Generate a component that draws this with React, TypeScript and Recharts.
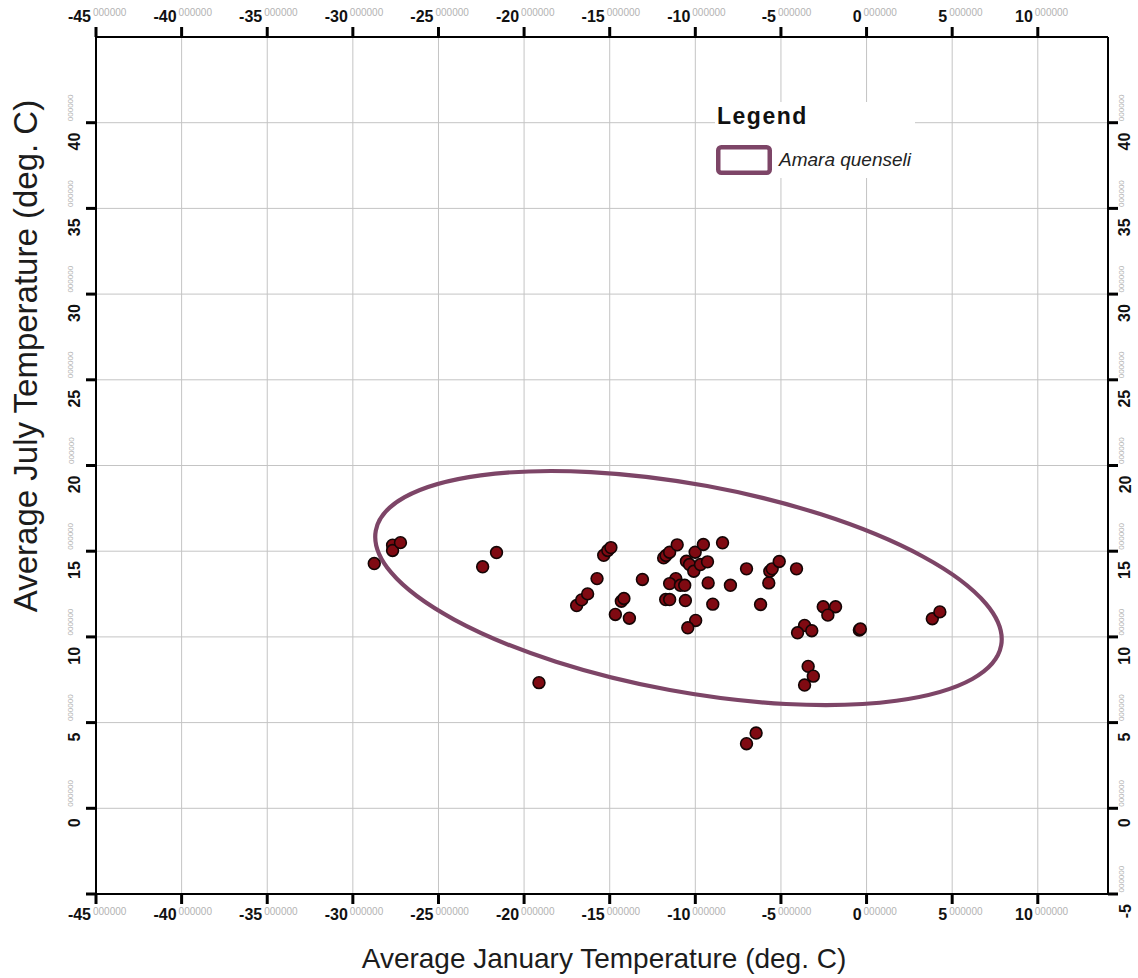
import React from 'react';
import { ScatterChart, Scatter, XAxis, YAxis, CartesianGrid, Legend } from 'recharts';

// Average January temperature (deg. C) of each record
const janTemps = [
  -28.75, -27.68, -27.68, -27.22, -22.42, -21.61, -19.13, -16.93, -16.64, -16.29,
  -15.74, -15.35, -15.11, -14.93, -14.32, -14.17, -14.67, -13.85, -13.09, -11.85,
  -11.71, -11.5, -11.06, -10.01, -9.53, -8.41, -10.52, -10.34, -10.09, -9.7,
  -9.29, -11.14, -11.5, -10.87, -10.62, -9.25, -7.95, -11.73, -11.5, -10.58,
  -8.98, -9.98, -10.44, -7.01, -6.19, -5.71, -5.65, -5.51, -5.1, -4.09,
  -2.53, -1.81, -2.26, -3.62, -4.03, -3.2, -0.42, -0.36, 3.84, 4.28,
  -3.41, -3.11, -3.62, -6.45, -7.01,
];
// Average July temperature (deg. C) of each record
const julyTemps = [
  14.28, 15.35, 15.04, 15.5, 14.09, 14.92, 7.33, 11.83, 12.16, 12.51,
  13.4, 14.76, 15.04, 15.21, 12.08, 12.24, 11.31, 11.09, 13.35, 14.61,
  14.75, 14.94, 15.37, 14.94, 15.39, 15.49, 14.41, 14.22, 13.83, 14.22,
  14.38, 13.4, 13.11, 13.01, 13.01, 13.15, 13.01, 12.18, 12.18, 12.12,
  11.91, 10.96, 10.53, 13.97, 11.89, 13.15, 13.83, 13.97, 14.4, 13.97,
  11.76, 11.76, 11.27, 10.67, 10.24, 10.36, 10.4, 10.46, 11.06, 11.46,
  8.28, 7.71, 7.19, 4.39, 3.77,
];

// Climate envelope ellipse: centre, end of major axis, end of minor axis (deg. C)
const ellipseCenter = { x: -10.4, y: 12.85 };
const ellipseMajorEnd = { x: 7.86, y: 9.5 };
const ellipseMinorEnd = { x: -9.3, y: 18.8 };

const xTicks = [-45, -40, -35, -30, -25, -20, -15, -10, -5, 0, 5, 10];
const yTicks = [-5, 0, 5, 10, 15, 20, 25, 30, 35, 40];
const xDomain = [-45, 14.1];
const yDomain = [-5, 45];
const tickDecimals = '000000';
const speciesName = 'Amara quenseli';
const legendTitle = 'Legend';
const xTitle = 'Average January Temperature (deg. C)';
const yTitle = 'Average July Temperature (deg. C)';

const FONT = '"Liberation Sans", Arial, Helvetica, sans-serif';
const ELLIPSE_COLOR = '#7d4567';
const DOT_FILL = '#800a12';
const SUPER_COLOR = '#b3b3b3';

const records = janTemps.map((x, i) => ({ x, y: julyTemps[i] }));
const ellipseData = [ellipseCenter, ellipseMajorEnd, ellipseMinorEnd];

const TopTick = (p: any) => (
  <g>
    <text x={p.x - 5} y={p.y - 5.3} textAnchor="end" fontSize={16} fontWeight={700} fill="#111" fontFamily={FONT}>
      {p.payload.value}
    </text>
    <text x={p.x - 3} y={p.y - 11} fontSize={10} fill={SUPER_COLOR} fontFamily={FONT}>
      {tickDecimals}
    </text>
  </g>
);

const BottomTick = (p: any) => (
  <g>
    <text x={p.x - 5} y={p.y + 16} textAnchor="end" fontSize={16} fontWeight={700} fill="#111" fontFamily={FONT}>
      {p.payload.value}
    </text>
    <text x={p.x - 3} y={p.y + 11} fontSize={10} fill={SUPER_COLOR} fontFamily={FONT}>
      {tickDecimals}
    </text>
  </g>
);

const makeYTick = (side: 'left' | 'right') => (p: any) => {
  if (side === 'left' && p.payload.value === -5) return <g />;
  const nx = side === 'left' ? p.x - 6 : p.x + 12.5;
  const sx = side === 'left' ? p.x - 12.5 : p.x + 6;
  const ny = p.y + 10;
  const sy = p.y - 1.5;
  return (
    <g>
      <text x={nx} y={ny} textAnchor="end" fontSize={16} fontWeight={700} fill="#111" fontFamily={FONT}
        transform={`rotate(-90 ${nx} ${ny})`}>
        {p.payload.value}
      </text>
      <text x={sx} y={sy} textAnchor="start" fontSize={8} fill={SUPER_COLOR} fontFamily={FONT}
        transform={`rotate(-90 ${sx} ${sy})`}>
        {tickDecimals}
      </text>
    </g>
  );
};
const LeftTick = makeYTick('left');
const RightTick = makeYTick('right');

const renderEllipse = (props: any) => {
  const pts = props.points;
  if (!pts || pts.length < 3) return <g />;
  const [c, a, b] = pts;
  const rx = Math.hypot(a.x - c.x, a.y - c.y);
  const ry = Math.hypot(b.x - c.x, b.y - c.y);
  const ang = (Math.atan2(a.y - c.y, a.x - c.x) * 180) / Math.PI;
  return (
    <ellipse cx={c.x} cy={c.y} rx={rx} ry={ry} transform={`rotate(${ang} ${c.x} ${c.y})`}
      fill="none" stroke={ELLIPSE_COLOR} strokeWidth={4.2} />
  );
};

const RecordDot = (p: any) => (
  <circle cx={p.cx} cy={p.cy} r={5.9} fill={DOT_FILL} stroke="#140505" strokeWidth={1.6} />
);

const LegendBox = () => (
  <svg width={200} height={76} style={{ display: 'block' }}>
    <rect x={0} y={0} width={200} height={76} fill="#fff" />
    <text x={2} y={21.5} fontSize={23} fontWeight={700} letterSpacing={1.5} fill="#111" fontFamily={FONT}>
      {legendTitle}
    </text>
    <rect x={3.25} y={45.25} width={51.5} height={25.5} rx={3} fill="#fff" stroke={ELLIPSE_COLOR} strokeWidth={4.5} />
    <text x={64} y={64} fontSize={19} fontStyle="italic" fill="#222" fontFamily={FONT}>
      {speciesName}
    </text>
  </svg>
);

const axisLine = { stroke: '#000', strokeWidth: 2 };
const tickLine = { stroke: '#000', strokeWidth: 3 };

export default function App() {
  return (
    <div style={{ position: 'absolute', left: 0, top: 0, width: 1138, height: 978, background: '#fff' }}>
      <ScatterChart width={1138} height={978} margin={{ top: 0, right: 0, bottom: 0, left: 0 }}>
        <CartesianGrid xAxisId="bottom" yAxisId="left" stroke="#c4c4c4" strokeWidth={1} />
        <XAxis xAxisId="top" orientation="top" type="number" dataKey="x" domain={xDomain} ticks={xTicks}
          allowDataOverflow interval={0} height={37} tickSize={10} tickMargin={0}
          tick={TopTick} axisLine={axisLine} tickLine={tickLine} />
        <XAxis xAxisId="bottom" orientation="bottom" type="number" dataKey="x" domain={xDomain} ticks={xTicks}
          allowDataOverflow interval={0} height={84} tickSize={10} tickMargin={0}
          tick={BottomTick} axisLine={axisLine} tickLine={tickLine}
          label={{
            content: () => (
              <text x={604} y={968} textAnchor="middle" fontSize={28} fill="#1c1c1c" fontFamily={FONT}>
                {xTitle}
              </text>
            ),
          }} />
        <YAxis yAxisId="left" orientation="left" type="number" dataKey="y" domain={yDomain} ticks={yTicks}
          allowDataOverflow interval={0} width={96} tickSize={10} tickMargin={0}
          tick={LeftTick} axisLine={axisLine} tickLine={tickLine}
          label={{
            content: () => (
              <text x={37} y={356} textAnchor="middle" fontSize={33} fill="#1c1c1c" fontFamily={FONT}
                transform="rotate(-90 37 356)">
                {yTitle}
              </text>
            ),
          }} />
        <YAxis yAxisId="right" orientation="right" type="number" dataKey="y" domain={yDomain} ticks={yTicks}
          allowDataOverflow interval={0} width={30} tickSize={10} tickMargin={0}
          tick={RightTick} axisLine={axisLine} tickLine={tickLine} />
        <Legend layout="vertical" align="center" verticalAlign="middle"
          wrapperStyle={{ left: 715, top: 102, width: 200, height: 76, margin: 0, padding: 0 }}
          content={() => <LegendBox />} />
        <Scatter name={speciesName} data={ellipseData} xAxisId="bottom" yAxisId="left" fill={ELLIPSE_COLOR}
          line={renderEllipse} shape={() => <g />} isAnimationActive={false} />
        <Scatter name="records" data={records} xAxisId="bottom" yAxisId="left" fill={DOT_FILL}
          shape={RecordDot} isAnimationActive={false} />
      </ScatterChart>
    </div>
  );
}
